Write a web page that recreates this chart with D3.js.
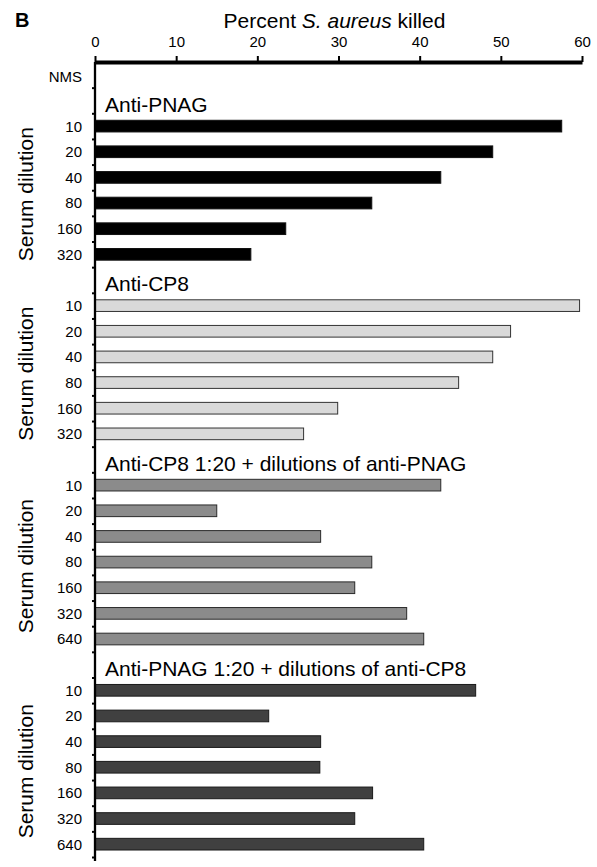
<!DOCTYPE html>
<html>
<head>
<meta charset="utf-8">
<script src="https://cdn.jsdelivr.net/npm/d3@7"></script>
<style>
  body { margin: 0; background: #fff; }
  text { font-family: "Liberation Sans", Arial, Helvetica, sans-serif; fill: #000; }
</style>
</head>
<body>
<div id="chart"></div>
<script>
const groupNames = ["Anti-PNAG", "Anti-CP8", "Anti-CP8 1:20 + dilutions of anti-PNAG", "Anti-PNAG 1:20 + dilutions of anti-CP8"];
const dilutions6 = ["10", "20", "40", "80", "160", "320"];
const dilutions7 = ["10", "20", "40", "80", "160", "320", "640"];
const pnag = [57.5, 49.0, 42.6, 34.1, 23.5, 19.2];
const cp8 = [59.7, 51.2, 49.0, 44.8, 29.9, 25.7];
const cp8PlusPnag = [42.6, 15.0, 27.8, 34.1, 32.0, 38.4, 40.5];
const pnagPlusCp8 = [46.9, 21.4, 27.8, 27.7, 34.2, 32.0, 40.5];
const xTicks = [0, 10, 20, 30, 40, 50, 60];

const width = 597, height = 867;
const plotLeft = 95, plotRight = 582, plotTop = 62, plotBottom = 857;

const groupSeries = [
    { name: groupNames[0], dil: dilutions6, vals: pnag, fill: "#000000", stroke: "#111" },
    { name: groupNames[1], dil: dilutions6, vals: cp8, fill: "#d9d9d9", stroke: "#333" },
    { name: groupNames[2], dil: dilutions7, vals: cp8PlusPnag, fill: "#8b8b8b", stroke: "#2a2a2a" },
    { name: groupNames[3], dil: dilutions7, vals: pnagPlusCp8, fill: "#404040", stroke: "#1a1a1a" }
];

// one row per category, header rows included
const rows = [{ key: "nms", label: "NMS" }];
groupSeries.forEach((g, gi) => {
    rows.push({ key: "h" + gi, header: g.name, gi });
    g.dil.forEach((d, i) => rows.push({ key: gi + "-" + d, label: d, value: g.vals[i], gi }));
});

const svg = d3.select("#chart").append("svg")
    .attr("width", width)
    .attr("height", height);

const x = d3.scaleLinear().domain([0, 60]).range([plotLeft, plotRight]);
const y = d3.scaleBand()
    .domain(rows.map(r => r.key))
    .range([plotTop, plotBottom])
    .paddingInner(0.545)
    .paddingOuter(0.2725);
const rowEdge = d3.scaleLinear().domain([0, rows.length]).range([plotTop, plotBottom]);

// panel letter
svg.append("text")
    .attr("x", 15).attr("y", 27)
    .style("font-size", "20px").style("font-weight", "bold")
    .text("B");

// title
const title = svg.append("text")
    .attr("x", (plotLeft + plotRight) / 2 - 4).attr("y", 28)
    .attr("text-anchor", "middle")
    .style("font-size", "21px");
title.append("tspan").text("Percent ");
title.append("tspan").style("font-style", "italic").text("S. aureus");
title.append("tspan").text(" killed");

// bars
svg.append("g").selectAll("rect")
    .data(rows.filter(r => r.value != null))
    .join("rect")
    .attr("x", x(0))
    .attr("y", d => y(d.key))
    .attr("width", d => x(d.value) - x(0))
    .attr("height", y.bandwidth())
    .attr("fill", d => groupSeries[d.gi].fill)
    .attr("stroke", d => groupSeries[d.gi].stroke)
    .attr("stroke-width", 1);

// top axis
const xAxis = svg.append("g")
    .attr("transform", `translate(0,${plotTop})`)
    .call(d3.axisTop(x).tickValues(xTicks).tickSize(6).tickSizeOuter(0).tickPadding(9));
xAxis.select(".domain").attr("stroke", "#000").attr("stroke-width", 4);
xAxis.selectAll(".tick line").attr("stroke-width", 2);
xAxis.selectAll(".tick text").style("font-size", "15px");

// left axis: tick marks on row edges
const yAxis = svg.append("g")
    .attr("transform", `translate(${plotLeft},0)`)
    .call(d3.axisLeft(rowEdge).tickValues(d3.range(1, rows.length + 1)).tickFormat("").tickSize(3).tickSizeOuter(0));
yAxis.select(".domain").attr("stroke-width", 2.3).attr("d", `M0,${plotTop}V${plotBottom + 4}`);
yAxis.selectAll(".tick line").attr("stroke-width", 2);

// row labels
svg.append("g").selectAll("text")
    .data(rows.filter(r => r.label))
    .join("text")
    .attr("x", 82)
    .attr("y", d => y(d.key) + y.bandwidth() / 2 + (d.key === "nms" ? 2 : 0))
    .attr("dy", "0.36em")
    .attr("text-anchor", "end")
    .style("font-size", "15px")
    .text(d => d.label);

// group headers
svg.append("g").selectAll("text")
    .data(rows.filter(r => r.header))
    .join("text")
    .attr("x", 105)
    .attr("y", d => y(d.key) + y.bandwidth() / 2 + y.step() / 2 - 1.5)
    .style("font-size", "21px")
    .text(d => d.header);

// "Serum dilution" per group
groupSeries.forEach((g, gi) => {
    const first = y(gi + "-" + g.dil[0]);
    const last = y(gi + "-" + g.dil[g.dil.length - 1]) + y.bandwidth();
    svg.append("text")
        .attr("transform", `translate(32.5,${(first + last) / 2 + 4}) rotate(-90)`)
        .attr("text-anchor", "middle")
        .style("font-size", "21px")
        .text("Serum dilution");
});
</script>
</body>
</html>
